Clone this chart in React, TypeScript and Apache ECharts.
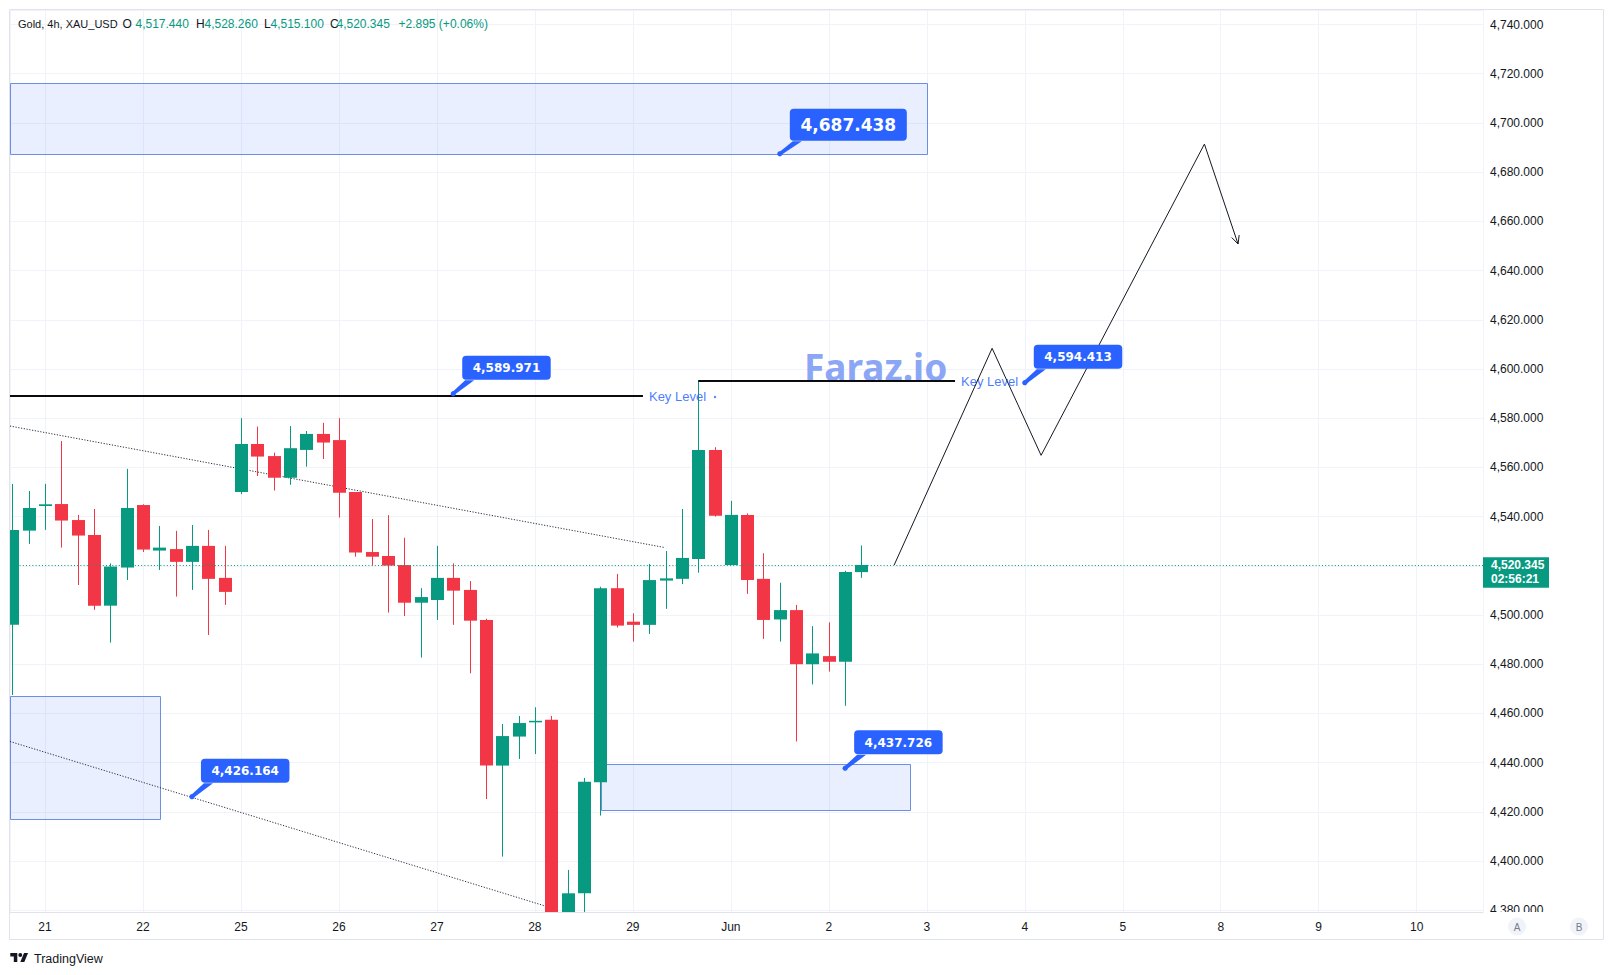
import React, { useEffect, useRef } from 'react';
import * as echarts from 'echarts';

// ---------- data ----------
// x value of a bar = bar index - 2, so that each trading day starts at a multiple of 6 (six 4h bars a day)
const dayLabels = ['21', '22', '25', '26', '27', '28', '29', 'Jun', '2', '3', '4', '5', '8', '9', '10'];

const opens = [
  4496.0, 4534.3, 4544.3, 4545.1, 4538.6, 4532.5, 4503.8, 4519.3, 4544.7, 4526.2,
  4526.8, 4521.6, 4528.1, 4515.1, 4550.0, 4569.5, 4564.6, 4555.8, 4567.1, 4573.6,
  4571.1, 4550.0, 4525.6, 4524.0, 4520.3, 4505.0, 4506.1, 4515.1, 4510.2, 4498.0,
  4438.8, 4450.6, 4456.6, 4457.4, 4376.5, 4386.9, 4432.0, 4510.9, 4497.3, 4496.0,
  4514.0, 4514.7, 4522.8, 4567.1, 4520.3, 4540.7, 4514.7, 4498.2, 4502.0, 4480.0,
  4483.3, 4481.0, 4517.44,
];
const closes = [
  4534.6, 4543.5, 4545.0, 4538.4, 4532.3, 4503.8, 4519.7, 4543.5, 4526.6, 4527.4,
  4521.6, 4528.1, 4514.7, 4509.4, 4569.5, 4564.4, 4555.8, 4567.8, 4573.6, 4570.1,
  4549.7, 4525.4, 4523.7, 4520.1, 4505.0, 4507.3, 4515.1, 4509.9, 4497.7, 4438.8,
  4450.8, 4456.1, 4457.0, 4376.0, 4386.9, 4432.2, 4510.9, 4495.7, 4496.0, 4514.2,
  4514.9, 4523.2, 4567.1, 4540.3, 4540.7, 4514.2, 4498.0, 4502.0, 4480.0, 4484.4,
  4481.0, 4517.45, 4520.345,
];
const lows = [
  4467.5, 4528.9, 4534.6, 4527.4, 4512.2, 4502.1, 4488.8, 4514.2, 4525.6, 4518.3,
  4507.5, 4510.2, 4491.9, 4504.1, 4549.1, 4556.5, 4550.6, 4552.9, 4560.3, 4563.4,
  4539.6, 4523.7, 4520.1, 4501.0, 4499.6, 4482.7, 4498.0, 4496.0, 4476.3, 4425.2,
  4401.8, 4441.5, 4443.5, 4372.0, 4371.0, 4376.0, 4418.5, 4494.9, 4489.2, 4492.3,
  4502.5, 4512.6, 4517.2, 4540.0, 4520.3, 4508.6, 4490.3, 4489.2, 4448.6, 4471.8,
  4477.0, 4463.1, 4515.1,
];
const highs = [
  4553.3, 4550.4, 4553.3, 4570.7, 4540.7, 4543.1, 4521.0, 4559.4, 4545.0, 4536.2,
  4534.2, 4536.6, 4534.6, 4528.1, 4580.0, 4576.6, 4566.0, 4576.8, 4574.8, 4578.1,
  4580.0, 4550.0, 4539.0, 4540.6, 4531.4, 4510.9, 4528.1, 4521.0, 4513.8, 4498.5,
  4455.7, 4459.0, 4462.5, 4459.0, 4396.4, 4433.8, 4511.5, 4516.7, 4500.7, 4520.8,
  4526.0, 4543.1, 4595.2, 4568.2, 4546.4, 4541.3, 4525.1, 4513.1, 4504.1, 4495.5,
  4497.0, 4518.0, 4528.26,
];

// drawings (x in bar units as above, y in price)
const X_MIN = -2.141;
const X_MAX = 88.06;
const Y_MIN = 4379.3;
const Y_MAX = 4745.9;

const zoneX0 = [X_MIN, X_MIN, 34.05];
const zoneX1 = [54.04, 7.03, 53.0];
const zoneTop = [4716.1, 4467.0, 4439.3];
const zoneBottom = [4687.438, 4417.1, 4420.5];

const trendX0 = [X_MIN, X_MIN];
const trendY0 = [4576.8, 4448.6];
const trendX1 = [37.97, 30.7];
const trendY1 = [4527.4, 4381.6];

const keyStart = [X_MIN, 40];
const keyEnd = [36.62, 55.73];
const keyPrice = [4588.9, 4595.2];
const keyText = 'Key Level';

const projX = [52, 58, 61, 71, 73.06];
const projY = [4520.3, 4608.4, 4564.9, 4691.4, 4650.8];

const calloutX = [45, 25, 60, 9, 49];
const calloutPrice = [4687.438, 4589.971, 4594.413, 4426.164, 4437.726];
const LARGE_CALLOUT = 0;

const symbolName = 'Gold, 4h, XAU_USD';
const countdown = '02:56:21';
const watermark = 'Faraz.io';

// ---------- styles ----------
const GREEN = '#089981';
const RED = '#f23645';
const BLUE = '#2962ff';
const TEXT = '#131722';
const GRID = '#f0f3fa';
const FONT = '"Liberation Sans", Arial, sans-serif';

const fmt = (v: number, d = 3) =>
  v.toLocaleString('en-US', { minimumFractionDigits: d, maximumFractionDigits: d });

export default function App() {
  const ref = useRef<HTMLDivElement>(null);

  useEffect(() => {
    const chart = echarts.init(ref.current!, null, { renderer: 'svg' });

    const candleData = opens.map((o, i) => [i - 2, o, closes[i], lows[i], highs[i]]);
    const n = closes.length;
    const lastOpen = opens[n - 1];
    const lastClose = closes[n - 1];
    const lastHigh = highs[n - 1];
    const lastLow = lows[n - 1];
    const change = lastClose - closes[n - 2];
    const changePct = (change / closes[n - 2]) * 100;

    const headerY = 24.3;
    const hdr = (x: number, text: string, fill: string, size = 12) => ({
      type: 'text',
      z: 5,
      style: { x, y: headerY, text, fill, font: `${size}px ${FONT}`, verticalAlign: 'middle' },
    });

    const option: any = {
      animation: false,
      backgroundColor: '#ffffff',
      grid: { left: 10, top: 10, width: 1473, height: 902, show: false },
      xAxis: {
        type: 'value',
        min: X_MIN,
        max: X_MAX,
        minInterval: 6,
        maxInterval: 6,
        splitNumber: 15,
        axisLine: { show: true, onZero: false, lineStyle: { color: '#e0e3eb' } },
        axisTick: { show: false },
        axisLabel: {
          color: TEXT,
          fontSize: 12,
          fontFamily: FONT,
          margin: 9,
          formatter: (v: number) => {
            const k = v / 6;
            const r = Math.round(k);
            return Math.abs(k - r) < 1e-6 && dayLabels[r] !== undefined ? dayLabels[r] : '';
          },
        },
        splitLine: { show: true, lineStyle: { color: GRID, width: 1 } },
      },
      yAxis: {
        type: 'value',
        position: 'right',
        min: Y_MIN,
        max: Y_MAX,
        minInterval: 20,
        maxInterval: 20,
        splitNumber: 18,
        axisLine: { show: false },
        axisTick: { show: false },
        axisLabel: {
          color: TEXT,
          fontSize: 12,
          fontFamily: FONT,
          margin: 7,
          formatter: (v: number) => {
            const k = v / 20;
            return Math.abs(k - Math.round(k)) < 1e-6 ? fmt(v) : '';
          },
        },
        splitLine: { show: true, lineStyle: { color: GRID, width: 1 } },
      },
      series: [
        // zones
        {
          type: 'custom',
          z: 1,
          silent: true,
          clip: true,
          data: zoneTop.map((t, i) => [zoneX0[i], t]),
          renderItem: (params: any, api: any) => {
            const i = params.dataIndex;
            const p0 = api.coord([zoneX0[i], zoneTop[i]]);
            const p1 = api.coord([zoneX1[i], zoneBottom[i]]);
            return {
              type: 'rect',
              shape: {
                x: Math.round(p0[0]) + 0.5,
                y: Math.round(p0[1]) + 0.5,
                width: Math.round(p1[0] - p0[0]),
                height: Math.round(p1[1] - p0[1]),
              },
              style: { fill: 'rgba(41,98,255,0.1)', stroke: '#6d8fe3', lineWidth: 1 },
            };
          },
        },
        // dotted trend lines
        {
          type: 'custom',
          z: 1,
          silent: true,
          clip: true,
          data: trendX0.map((x, i) => [x, trendY0[i]]),
          renderItem: (params: any, api: any) => {
            const i = params.dataIndex;
            const a = api.coord([trendX0[i], trendY0[i]]);
            const b = api.coord([trendX1[i], trendY1[i]]);
            return {
              type: 'line',
              shape: { x1: a[0], y1: a[1], x2: b[0], y2: b[1] },
              style: { stroke: '#2a2e39', lineWidth: 1, lineDash: [1.2, 1.6] },
            };
          },
        },
        // candles
        {
          type: 'custom',
          z: 2,
          silent: true,
          clip: true,
          data: candleData,
          encode: { x: 0, y: [1, 2, 3, 4] },
          renderItem: (params: any, api: any) => {
            const x = api.value(0);
            const o = api.value(1);
            const c = api.value(2);
            const l = api.value(3);
            const h = api.value(4);
            const po = api.coord([x, o]);
            const pc = api.coord([x, c]);
            const pl = api.coord([x, l]);
            const ph = api.coord([x, h]);
            const color = c >= o ? GREEN : RED;
            const cx = Math.round(po[0]) + 0.5;
            const top = Math.min(po[1], pc[1]);
            const bot = Math.max(po[1], pc[1]);
            return {
              type: 'group',
              children: [
                {
                  type: 'line',
                  shape: { x1: cx, y1: ph[1], x2: cx, y2: pl[1] },
                  style: { stroke: color, lineWidth: 1 },
                },
                {
                  type: 'rect',
                  shape: { x: cx - 6.5, y: top, width: 13, height: Math.max(bot - top, 1.5) },
                  style: { fill: color },
                },
              ],
            };
          },
          markLine: {
            silent: true,
            symbol: ['none', 'none'],
            label: { show: false },
            lineStyle: { color: GREEN, type: [1, 2.2], width: 1 },
            data: [{ yAxis: lastClose }],
          },
        },
        // key levels
        {
          type: 'custom',
          z: 3,
          silent: true,
          data: keyPrice.map((p, i) => [keyEnd[i], p]),
          renderItem: (params: any, api: any) => {
            const i = params.dataIndex;
            const a = api.coord([keyStart[i], keyPrice[i]]);
            const b = api.coord([keyEnd[i], keyPrice[i]]);
            const y = Math.round(a[1]);
            return {
              type: 'group',
              children: [
                {
                  type: 'line',
                  shape: { x1: a[0], y1: y, x2: b[0], y2: y },
                  style: { stroke: '#0b0b0e', lineWidth: 2 },
                },
                {
                  type: 'text',
                  style: {
                    x: b[0] + 6,
                    y: y + 0.5,
                    text: keyText,
                    fill: BLUE,
                    font: `13px ${FONT}`,
                    verticalAlign: 'middle',
                    opacity: 0.85,
                  },
                },
                {
                  type: 'circle',
                  shape: { cx: b[0] + 72, cy: y + 1, r: 1.2 },
                  style: { fill: BLUE, opacity: 0.8 },
                },
              ],
            };
          },
        },
        // projection zigzag
        {
          type: 'custom',
          z: 3,
          silent: true,
          data: [[projX[0], projY[0]]],
          renderItem: (params: any, api: any) => {
            const pts = projX.map((x, k) => api.coord([x, projY[k]]));
            const E = pts[pts.length - 1];
            const P = pts[pts.length - 2];
            const ang = Math.atan2(E[1] - P[1], E[0] - P[0]);
            const L = 9;
            const a = Math.PI / 7;
            const h1 = [E[0] - L * Math.cos(ang - a), E[1] - L * Math.sin(ang - a)];
            const h2 = [E[0] - L * Math.cos(ang + a), E[1] - L * Math.sin(ang + a)];
            return {
              type: 'group',
              children: [
                { type: 'polyline', shape: { points: pts }, style: { stroke: '#131722', lineWidth: 1, fill: 'none' } },
                { type: 'polyline', shape: { points: [h1, E, h2] }, style: { stroke: '#131722', lineWidth: 1, fill: 'none' } },
              ],
            };
          },
        },
        // price callouts
        {
          type: 'custom',
          z: 4,
          silent: true,
          data: calloutPrice.map((p, i) => [calloutX[i], p]),
          renderItem: (params: any, api: any) => {
            const i = params.dataIndex;
            const c = api.coord([calloutX[i], calloutPrice[i]]);
            const big = i === LARGE_CALLOUT;
            const w = big ? 117 : 88.5;
            const h = big ? 32 : 24;
            const dx = big ? 10 : 9;
            const db = big ? -13 : -14;
            const bx = c[0] + dx;
            const bb = c[1] + db;
            const by = bb - h;
            return {
              type: 'group',
              children: [
                {
                  type: 'polygon',
                  shape: { points: [[c[0] - 1.3, c[1] - 1.2], [c[0] + 1.3, c[1] + 1.2], [bx + 12, bb + 0.5], [bx + 3, bb + 0.5]] },
                  style: { fill: BLUE },
                },
                { type: 'circle', shape: { cx: c[0], cy: c[1], r: 2.6 }, style: { fill: BLUE } },
                { type: 'rect', shape: { x: bx, y: by, width: w, height: h, r: 4 }, style: { fill: BLUE } },
                {
                  type: 'text',
                  style: {
                    x: bx + w / 2,
                    y: by + h / 2 + 0.5,
                    text: fmt(calloutPrice[i]),
                    fill: '#ffffff',
                    font: big ? 'bold 17px "DejaVu Sans"' : 'bold 12px "DejaVu Sans"',
                    align: 'center',
                    verticalAlign: 'middle',
                  },
                },
              ],
            };
          },
        },
        // last price tag on the price axis
        {
          type: 'custom',
          z: 20,
          clip: false,
          silent: true,
          data: [[X_MAX, lastClose]],
          renderItem: (params: any, api: any) => {
            const c = api.coord([X_MAX, lastClose]);
            return {
              type: 'group',
              children: [
                { type: 'rect', shape: { x: c[0], y: c[1] - 7.7, width: 66, height: 30.4 }, style: { fill: GREEN } },
                {
                  type: 'text',
                  style: { x: c[0] + 8, y: c[1] - 0.3, text: fmt(lastClose), fill: '#fff', font: `bold 12px ${FONT}`, verticalAlign: 'middle' },
                },
                {
                  type: 'text',
                  style: { x: c[0] + 8, y: c[1] + 14.5, text: countdown, fill: '#fff', font: `bold 12px ${FONT}`, verticalAlign: 'middle' },
                },
              ],
            };
          },
        },
      ],
      graphic: {
        elements: [
          {
            type: 'rect',
            z: 0,
            silent: true,
            shape: { x: 9.5, y: 9.5, width: 1594, height: 930 },
            style: { fill: 'none', stroke: '#e0e3eb', lineWidth: 1 },
          },
          // header
          hdr(18, symbolName, TEXT, 11),
          hdr(122.6, 'O', TEXT),
          hdr(135.5, fmt(lastOpen), GREEN),
          hdr(196, 'H', TEXT),
          hdr(204.5, fmt(lastHigh), GREEN),
          hdr(264, 'L', TEXT),
          hdr(270.5, fmt(lastLow), GREEN),
          hdr(330, 'C', TEXT),
          hdr(336.5, fmt(lastClose), GREEN),
          hdr(398.5, `${change >= 0 ? '+' : ''}${fmt(change)} (${change >= 0 ? '+' : ''}${changePct.toFixed(2)}%)`, GREEN),
          // watermark
          {
            type: 'text',
            z: 2,
            silent: true,
            style: {
              x: 804,
              y: 366,
              text: watermark,
              fill: '#8ca6f6',
              font: 'bold 37px "Noto Sans"',
              verticalAlign: 'middle',
            },
          },
          // cover below plot on price axis
          {
            type: 'rect',
            z: 100,
            silent: true,
            shape: { x: 1484, y: 912, width: 119, height: 27 },
            style: { fill: '#ffffff' },
          },
          { type: 'circle', z: 101, shape: { cx: 1517, cy: 926.5, r: 9 }, style: { fill: '#f0f3fa' } },
          { type: 'text', z: 102, style: { x: 1517, y: 927, text: 'A', fill: '#787b86', font: `10px ${FONT}`, align: 'center', verticalAlign: 'middle' } },
          { type: 'circle', z: 101, shape: { cx: 1579, cy: 926.5, r: 9 }, style: { fill: '#f0f3fa' } },
          { type: 'text', z: 102, style: { x: 1579, y: 927, text: 'B', fill: '#787b86', font: `10px ${FONT}`, align: 'center', verticalAlign: 'middle' } },
          // TradingView footer
          {
            type: 'tvlogo',
            z: 5,
            x: 10.3,
            y: 951,
            scaleX: 0.5,
            scaleY: 0.5,
            style: { fill: TEXT },
          },
          {
            type: 'text',
            z: 5,
            style: { x: 34, y: 958.5, text: 'TradingView', fill: TEXT, font: `12.5px ${FONT}`, verticalAlign: 'middle' },
          },
        ],
      },
    };

    chart.setOption(option);
    return () => chart.dispose();
  }, []);

  return (
    <div
      ref={ref}
      style={{ position: 'absolute', left: 0, top: 0, width: 1615, height: 975, background: '#ffffff' }}
    />
  );
}

echarts.graphic.registerShape(
  'tvlogo',
  echarts.graphic.extendPath(
    'M14 22H7V11H0V4h14v18zM28 22h-8l7.5-18h8L28 22zM24 8a4 4 0 1 1-8 0a4 4 0 1 1 8 0z',
    {}
  )
);
